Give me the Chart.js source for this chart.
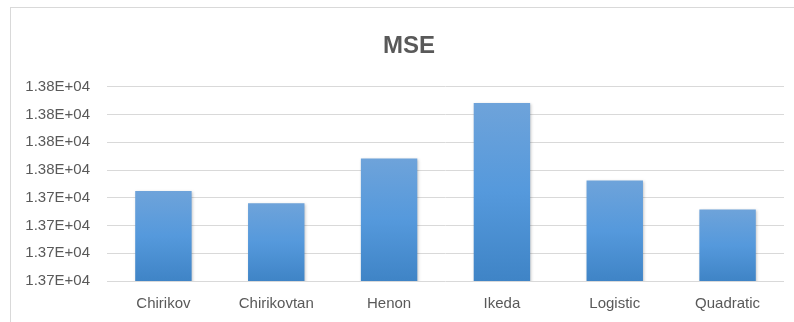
<!DOCTYPE html>
<html>
<head>
<meta charset="utf-8">
<script src="https://cdn.jsdelivr.net/npm/chart.js@4/dist/chart.umd.min.js"></script>
<style>
  html, body { margin: 0; padding: 0; background: #ffffff; }
  #wrap { position: relative; width: 794px; height: 322px; overflow: hidden; }
  #frame { position: absolute; left: 10px; top: 7px; width: 800px; height: 340px;
           border: 1px solid #d9d9d9; box-sizing: border-box; }
  canvas { position: absolute; left: 0; top: 0; }
</style>
</head>
<body>
<div id="wrap">
  <div id="frame"></div>
  <canvas id="chart" width="794" height="322"></canvas>
</div>
<script>
// Mean squared error per chaotic map
const categories = ['Chirikov', 'Chirikovtan', 'Henon', 'Ikeda', 'Logistic', 'Quadratic'];
const mseValues = [13746.2, 13744.0, 13752.1, 13762.1, 13748.1, 13742.9];
const yTickValues = [13730, 13735, 13740, 13745, 13750, 13755, 13760, 13765];

const TEXT = '#595959';
const GRID = '#d9d9d9';

function sci(v) {
  // 1.37e+4 -> 1.37E+04
  const [m, e] = v.toExponential(2).split('e');
  const sign = e[0] === '-' ? '-' : '+';
  const exp = String(Math.abs(parseInt(e, 10))).padStart(2, '0');
  return m + 'E' + sign + exp;
}

function barFill(ctx) {
  const chart = ctx.chart;
  const area = chart.chartArea;
  if (!area || ctx.type !== 'data') return '#5b9bd5';
  const y = chart.scales.y;
  const top = y.getPixelForValue(ctx.raw);
  const bottom = y.getPixelForValue(y.min);
  const g = chart.ctx.createLinearGradient(0, top, 0, bottom);
  g.addColorStop(0, '#6ea3da');
  g.addColorStop(0.5, '#5599dc');
  g.addColorStop(1, '#3f84c6');
  return g;
}

const barShadow = {
  id: 'barShadow',
  beforeDatasetDraw(chart) {
    const c = chart.ctx;
    c.save();
    c.shadowColor = 'rgba(0,0,0,0.22)';
    c.shadowBlur = 3;
    c.shadowOffsetX = 1;
    c.shadowOffsetY = 1;
  },
  afterDatasetDraw(chart) {
    chart.ctx.restore();
  }
};

// Center the title over the framed panel rather than the whole canvas
const titleInset = {
  id: 'titleInset',
  afterLayout(chart) {
    if (chart.titleBlock) chart.titleBlock.left = 34;
  }
};

new Chart(document.getElementById('chart'), {
  type: 'bar',
  data: {
    labels: categories,
    datasets: [{
      label: 'MSE',
      data: mseValues,
      backgroundColor: barFill,
      borderWidth: 0,
      categoryPercentage: 1.0,
      barPercentage: 0.5
    }]
  },
  plugins: [barShadow, titleInset],
  options: {
    responsive: false,
    animation: false,
    devicePixelRatio: 1,
    layout: { padding: { left: 0, right: 10, top: 0, bottom: 0 } },
    plugins: {
      legend: { display: false },
      tooltip: { enabled: false },
      title: {
        display: true,
        text: 'MSE',
        color: TEXT,
        font: { family: 'Liberation Sans', size: 24, weight: 'bold', lineHeight: 1.2 },
        padding: { top: 32, bottom: 26 }
      }
    },
    scales: {
      x: {
        grid: { display: false, drawTicks: false },
        border: { display: false },
        ticks: {
          color: TEXT,
          font: { family: 'Liberation Sans', size: 15 },
          padding: 14,
          maxRotation: 0
        },
        afterFit(scale) { scale.height = 41; }
      },
      y: {
        min: yTickValues[0],
        max: yTickValues[yTickValues.length - 1],
        afterBuildTicks(scale) {
          scale.ticks = yTickValues.map(v => ({ value: v }));
        },
        grid: { color: GRID, lineWidth: 1, drawTicks: false },
        border: { display: false },
        ticks: {
          color: TEXT,
          font: { family: 'Liberation Sans', size: 15 },
          padding: 17,
          callback: v => sci(v)
        },
        afterFit(scale) { scale.width = 107; }
      }
    }
  }
});
</script>
</body>
</html>
